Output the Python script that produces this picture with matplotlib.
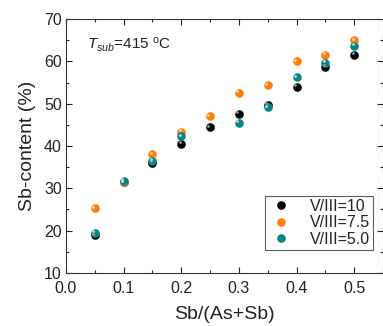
import matplotlib
matplotlib.use("Agg")
import matplotlib.pyplot as plt
import matplotlib.transforms as mtransforms
from matplotlib.ticker import MultipleLocator

plt.rcParams['font.family'] = ['Liberation Sans', 'DejaVu Sans']
plt.rcParams['mathtext.fontset'] = 'custom'
plt.rcParams['mathtext.rm'] = 'Liberation Sans'
plt.rcParams['mathtext.it'] = 'Liberation Sans:italic'
plt.rcParams['mathtext.bf'] = 'Liberation Sans:bold'

x10 = [0.05, 0.10, 0.15, 0.20, 0.25, 0.30, 0.35, 0.40, 0.45, 0.50]
y10 = [18.9, 31.5, 36.0, 40.5, 44.4, 47.6, 49.8, 53.9, 58.7, 61.6]
x75 = [0.05, 0.10, 0.15, 0.20, 0.25, 0.30, 0.35, 0.40, 0.45, 0.50]
y75 = [25.3, 31.4, 38.0, 43.4, 47.0, 52.5, 54.3, 60.0, 61.6, 65.0]
x50 = [0.05, 0.10, 0.15, 0.20, 0.30, 0.35, 0.40, 0.45, 0.50]
y50 = [19.5, 31.8, 36.5, 42.3, 45.4, 49.1, 56.2, 59.6, 63.7]

series = [
    (x10, y10, 'V/III=10', '#000000', '#9a9a9a'),
    (x75, y75, 'V/III=7.5', '#ff7f0e', '#ffd9a8'),
    (x50, y50, 'V/III=5.0', '#0a8585', '#a8dede'),
]

fig = plt.figure(figsize=(3.83, 3.26), dpi=100)
ax = fig.add_axes([0.1723, 0.1626, 0.8277, 0.7791])

hl = mtransforms.offset_copy(ax.transData, fig=fig, x=-1.2, y=1.2, units='points')
handles = []
for xs, ys, lab, c, hc in series:
    h, = ax.plot(xs, ys, 'o', ms=6.2, color=c, mec=c, mew=0, label=lab, zorder=3)
    ax.plot(xs, ys, 'o', ms=2.0, color=hc, mew=0, transform=hl, zorder=4)
    handles.append(h)

ax.set_xlim(0, 0.55)
ax.set_ylim(10, 70)
ax.xaxis.set_major_locator(MultipleLocator(0.1))
ax.xaxis.set_minor_locator(MultipleLocator(0.05))
ax.yaxis.set_major_locator(MultipleLocator(10))
ax.yaxis.set_minor_locator(MultipleLocator(5))
ax.tick_params(which='both', direction='in', top=True, right=True, labelsize=11.5, colors='#222222')
ax.tick_params(which='major', length=4, width=0.8)
ax.tick_params(which='minor', length=2.5, width=0.8)
ax.tick_params(axis='x', pad=6)
ax.tick_params(axis='y', pad=3)
for s in ax.spines.values():
    s.set_linewidth(0.8)
    s.set_color('#333333')

ax.set_xlabel('Sb/(As+Sb)', fontsize=14, labelpad=7, color='#222222')
ax.set_ylabel('Sb-content (%)', fontsize=14, color='#222222')
ax.yaxis.set_label_coords(-0.095, 0.5)

ax.text(0.067, 0.90, r'$T_{sub}$=415 $^{\rm o}$C', transform=ax.transAxes,
        fontsize=11, ha='left', va='center', color='#222222')

leg = ax.legend(handles=handles, loc='lower right', bbox_to_anchor=(0.97, 0.09),
                fontsize=11.5, frameon=True, fancybox=False, edgecolor='#333333',
                handletextpad=1.0, borderpad=0.2, labelspacing=0.1,
                handlelength=1.6, borderaxespad=0)
leg.get_frame().set_linewidth(0.8)
for t in leg.get_texts():
    t.set_color('#222222')

fig.savefig('out.png', dpi=100)
